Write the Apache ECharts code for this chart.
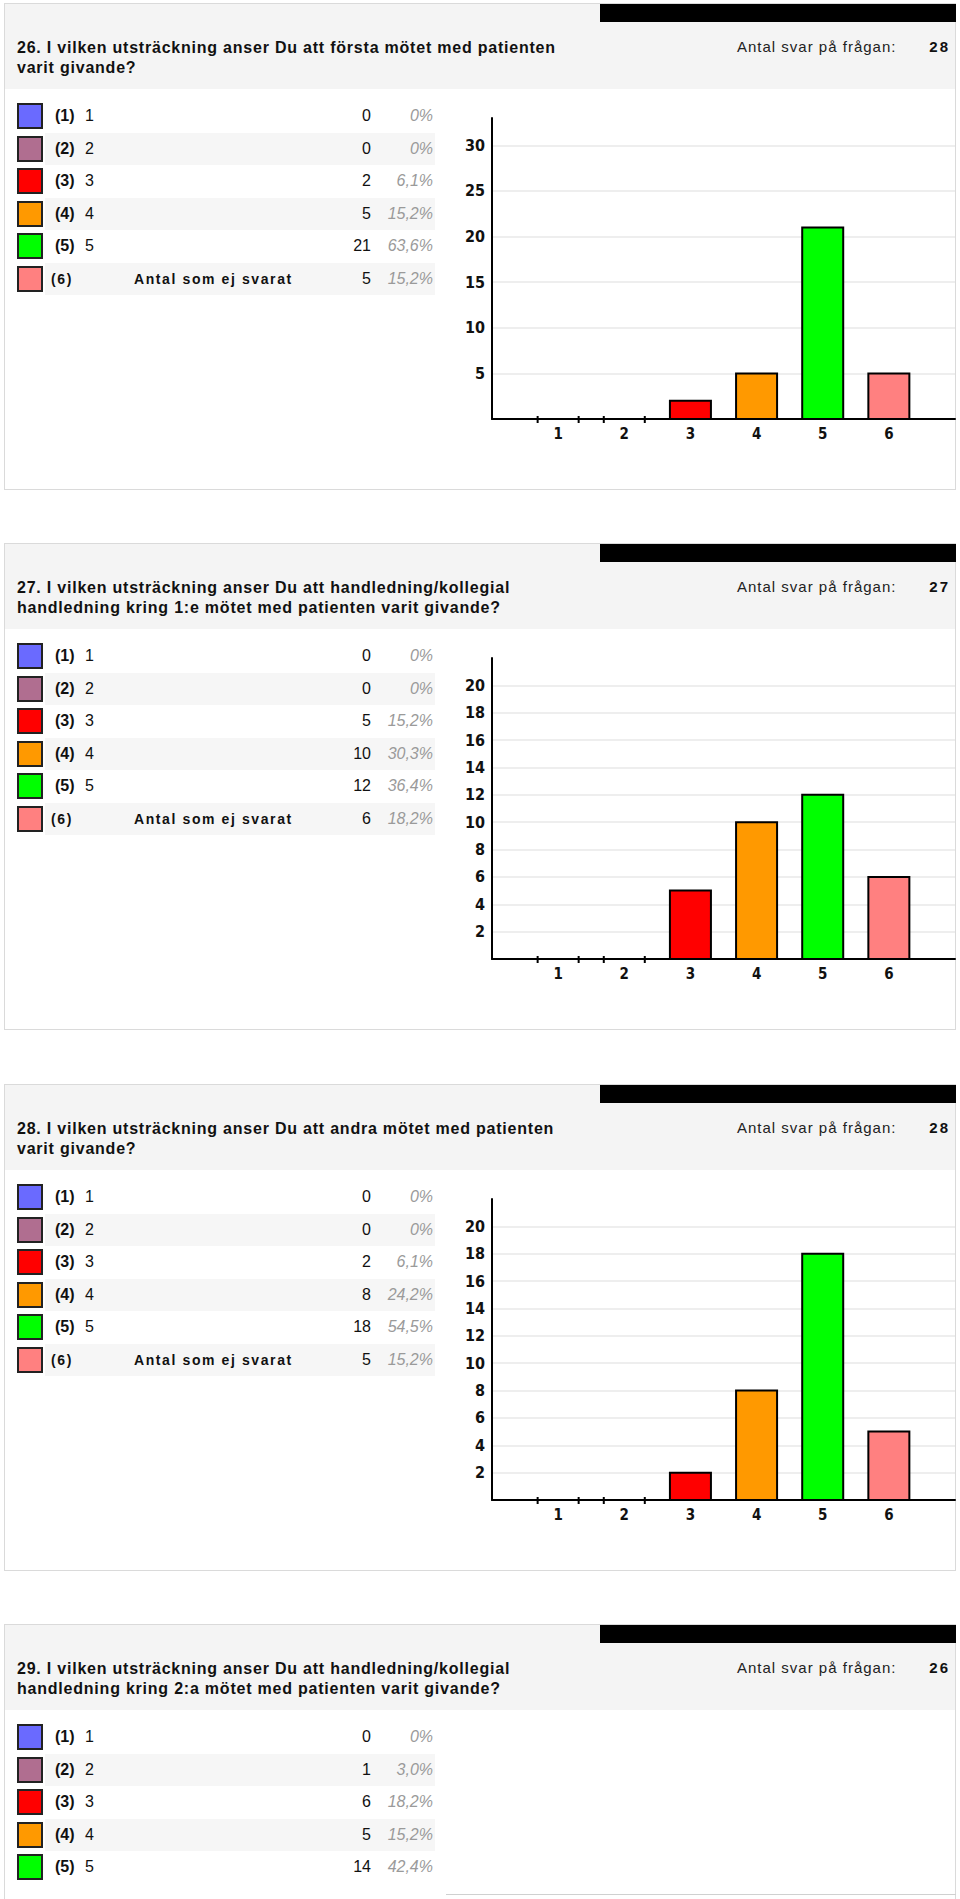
<!DOCTYPE html>
<html><head><meta charset="utf-8">
<script src="https://cdn.jsdelivr.net/npm/echarts@6/dist/echarts.min.js"></script>
<style>
html,body{margin:0;padding:0;background:#fff;}
body{width:960px;height:1899px;position:relative;overflow:hidden;font-family:"Liberation Sans",Arial,Helvetica,sans-serif;color:#111;}
.abs{position:absolute;white-space:nowrap;}
.box{position:absolute;left:4px;width:950px;border:1px solid #dadada;}
.band{position:absolute;left:5px;width:950px;height:85px;background:#f4f4f4;}
.bar{position:absolute;left:600px;width:356px;height:18px;background:#000;}
.title{position:absolute;left:17px;font-weight:bold;font-size:16px;letter-spacing:0.78px;line-height:20px;white-space:nowrap;color:#111;}
.antal{position:absolute;left:737px;font-size:15px;line-height:20px;letter-spacing:1px;white-space:nowrap;color:#222;}
.total{position:absolute;right:10px;font-size:15px;line-height:20px;font-weight:bold;letter-spacing:2px;white-space:nowrap;color:#111;}
.stripe{position:absolute;left:45px;width:390px;height:32px;background:#f6f6f6;}
.sw{position:absolute;left:17px;width:26px;height:26px;box-sizing:border-box;border:2px solid #222;}
.code{position:absolute;left:55px;font-size:16px;line-height:20px;font-weight:bold;white-space:nowrap;}
.lab{position:absolute;left:85px;font-size:16px;line-height:20px;white-space:nowrap;}
.code6{position:absolute;left:51px;font-size:14px;line-height:20px;font-weight:bold;letter-spacing:1.6px;white-space:nowrap;}
.lab6{position:absolute;left:134px;font-size:14px;line-height:20px;font-weight:bold;letter-spacing:1.6px;white-space:nowrap;}
.cnt{position:absolute;right:589px;font-size:16px;line-height:20px;white-space:nowrap;}
.pct{position:absolute;right:527px;font-size:16px;line-height:20px;font-style:italic;color:#9a9a9a;white-space:nowrap;}
#chart{position:absolute;left:0;top:0;width:960px;height:1899px;z-index:5;}
</style>
</head>
<body>
<div id="page"></div>
<div id="chart"></div>
<script>
// ---------- data ----------
const questionTitlesLine1 = [
  "26. I vilken utsträckning anser Du att första mötet med patienten",
  "27. I vilken utsträckning anser Du att handledning/kollegial",
  "28. I vilken utsträckning anser Du att andra mötet med patienten",
  "29. I vilken utsträckning anser Du att handledning/kollegial"
];
const questionTitlesLine2 = [
  "varit givande?",
  "handledning kring 1:e mötet med patienten varit givande?",
  "varit givande?",
  "handledning kring 2:a mötet med patienten varit givande?"
];
const answerLabel = "Antal svar på frågan:";
const answerTotals = [28, 27, 28, 26];
const optionCodes = ["(1)", "(2)", "(3)", "(4)", "(5)", "(6)"];
const optionLabels = ["1", "2", "3", "4", "5", "Antal som ej svarat"];
const categories = ["1", "2", "3", "4", "5", "6"];
const optionColors = ["#6a6aff", "#b06e90", "#ff0000", "#ff9900", "#00ff00", "#ff8080"];

const q26Counts = [0, 0, 2, 5, 21, 5];
const q26Percents = ["0%", "0%", "6,1%", "15,2%", "63,6%", "15,2%"];
const q27Counts = [0, 0, 5, 10, 12, 6];
const q27Percents = ["0%", "0%", "15,2%", "30,3%", "36,4%", "18,2%"];
const q28Counts = [0, 0, 2, 8, 18, 5];
const q28Percents = ["0%", "0%", "6,1%", "24,2%", "54,5%", "15,2%"];
const q29Counts = [0, 1, 6, 5, 14];
const q29Percents = ["0%", "3,0%", "18,2%", "15,2%", "42,4%"];

const yAxisMax = [33, 22, 22];
const yAxisInterval = [5, 2, 2];

// ---------- layout ----------
const sectionTops = [0, 540, 1081, 1621];
const allCounts = [q26Counts, q27Counts, q28Counts, q29Counts];
const allPercents = [q26Percents, q27Percents, q28Percents, q29Percents];

const page = document.getElementById('page');
function el(cls, top, text, extra) {
  const d = document.createElement('div');
  d.className = cls;
  d.style.top = top + 'px';
  if (text !== undefined) d.textContent = text;
  if (extra) Object.assign(d.style, extra);
  page.appendChild(d);
  return d;
}

sectionTops.forEach((T, s) => {
  const last = s === 3;
  el('box', T + 3, undefined, {height: (last ? 400 : 485) + 'px'});
  el('band', T + 4);
  el('bar', T + 4);
  el('title', T + 38, questionTitlesLine1[s]);
  el('title', T + 58, questionTitlesLine2[s]);
  el('antal', T + 37, answerLabel);
  el('total', T + 37, String(answerTotals[s]));
  const counts = allCounts[s], pcts = allPercents[s];
  for (let i = 0; i < counts.length; i++) {
    const c = T + 116 + i * 32.5;
    if (i % 2 === 1) el('stripe', c - 16);
    el('sw', c - 13, undefined, {background: optionColors[i]});
    if (i === 5) {
      el('code6', c - 10, optionCodes[i]);
      el('lab6', c - 10, optionLabels[i]);
    } else {
      el('code', c - 10, optionCodes[i]);
      el('lab', c - 10, optionLabels[i]);
    }
    el('cnt', c - 10, String(counts[i]));
    el('pct', c - 10, pcts[i]);
  }
  if (last) {
    el('abs', 1894, undefined, {left: '446px', width: '510px', height: '1px', background: '#d0d0d0'});
  }
});

// ---------- charts ----------
const chart = echarts.init(document.getElementById('chart'), null, {renderer: 'svg', width: 960, height: 1899});
const axisCats = [''].concat(categories, ['']);
const chartCounts = [q26Counts, q27Counts, q28Counts];
const grids = [], xAxes = [], yAxes = [], series = [];
const narrow = '"Liberation Sans Narrow","DejaVu Sans Condensed",sans-serif';
chartCounts.forEach((counts, k) => {
  const T = sectionTops[k];
  grids.push({left: 492, width: 463, top: T + 118, height: 301, containLabel: false});
  xAxes.push({
    type: 'category', gridIndex: k, data: axisCats, boundaryGap: false,
    axisLine: {lineStyle: {color: '#000', width: 2}},
    axisTick: {show: false},
    axisLabel: {fontFamily: narrow, fontWeight: 'bold', fontSize: 15, color: '#111', margin: 7, interval: 0},
    splitLine: {show: false}
  });
  const mx = yAxisMax[k];
  yAxes.push({
    type: 'value', gridIndex: k, min: 0, max: mx, interval: yAxisInterval[k],
    axisLine: {show: true, lineStyle: {color: '#000', width: 2}},
    axisTick: {show: false},
    axisLabel: {
      fontFamily: narrow, fontWeight: 'bold',
      fontSize: 16, color: '#111', margin: 7, showMaxLabel: false, showMinLabel: false,
      formatter: v => (v > 0 && v < mx) ? String(v) : ''
    },
    splitLine: {show: true, showMaxLine: false, showMinLine: false, lineStyle: {color: '#eeeeee', width: 2}}
  });
  series.push({
    type: 'custom', xAxisIndex: k, yAxisIndex: k,
    data: counts.map((v, i) => [i + 1, v]),
    renderItem: function (params, api) {
      const v = api.value(1);
      const base = api.coord([api.value(0), 0]);
      const top = api.coord([api.value(0), v]);
      const w = api.size([1, 0])[0] * 0.62;
      const x0 = base[0] - w / 2;
      if (v === 0) {
        return {type: 'group', children: [
          {type: 'line', shape: {x1: x0, y1: base[1] - 3, x2: x0, y2: base[1] + 4}, style: {stroke: '#000', lineWidth: 2}},
          {type: 'line', shape: {x1: x0 + w, y1: base[1] - 3, x2: x0 + w, y2: base[1] + 4}, style: {stroke: '#000', lineWidth: 2}}
        ]};
      }
      return {type: 'rect', shape: {x: x0, y: top[1], width: w, height: base[1] - top[1]},
        style: {fill: optionColors[params.dataIndex], stroke: '#000', lineWidth: 2}};
    },
    z: 3
  });
});
chart.setOption({animation: false, backgroundColor: 'transparent', grid: grids, xAxis: xAxes, yAxis: yAxes, series: series});
</script>
</body></html>
